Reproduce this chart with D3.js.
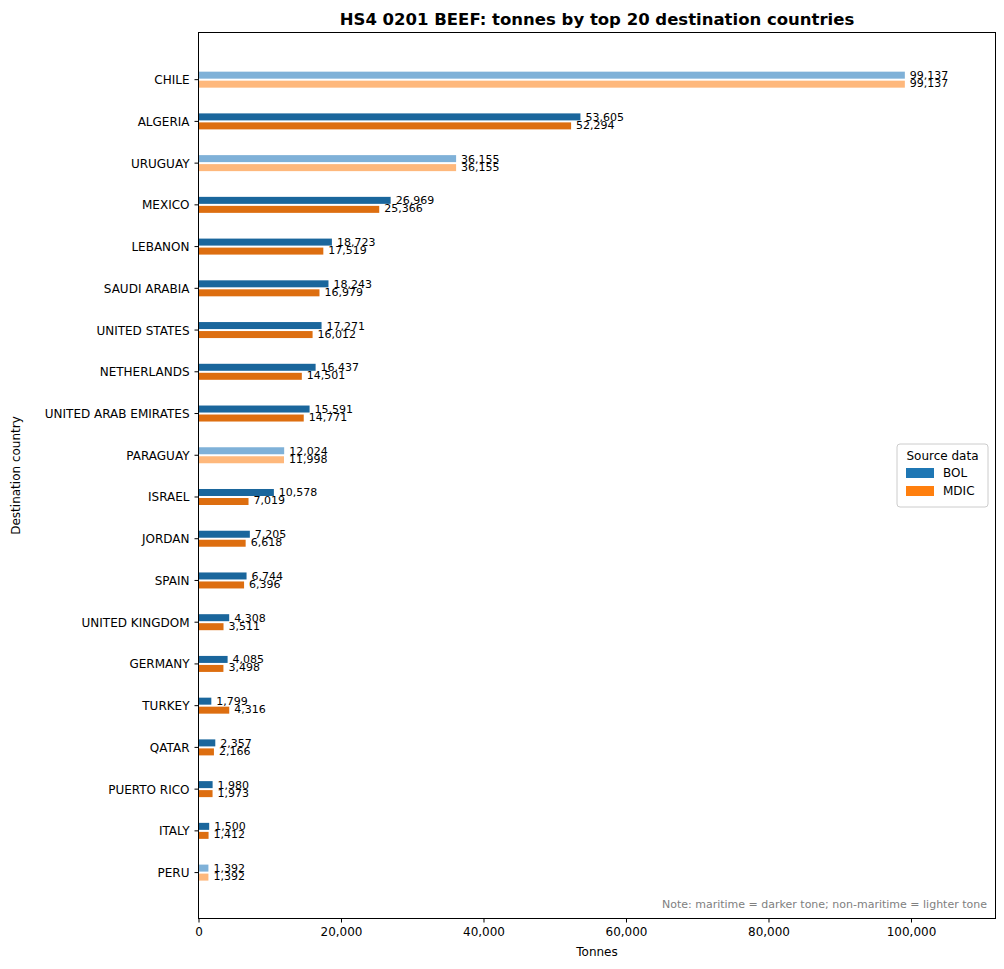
<!DOCTYPE html>
<html><head><meta charset="utf-8">
<script src="https://cdn.jsdelivr.net/npm/d3@7"></script>
<style>body{margin:0;background:#fff;font-family:"DejaVu Sans",sans-serif;}</style>
</head><body>
<script>
var countries=["CHILE","ALGERIA","URUGUAY","MEXICO","LEBANON","SAUDI ARABIA","UNITED STATES","NETHERLANDS","UNITED ARAB EMIRATES","PARAGUAY","ISRAEL","JORDAN","SPAIN","UNITED KINGDOM","GERMANY","TURKEY","QATAR","PUERTO RICO","ITALY","PERU"];
var bol=[99137,53605,36155,26969,18723,18243,17271,16437,15591,12024,10578,7205,6744,4308,4085,1799,2357,1980,1500,1392];
var mdic=[99137,52294,36155,25366,17519,16979,16012,14501,14771,11998,7019,6618,6396,3511,3498,4316,2166,1973,1412,1392];
var maritime=[false,true,false,true,true,true,true,true,true,false,true,true,true,true,true,true,true,true,true,false];
var xTicks=[0,20000,40000,60000,80000,100000];

var W=1004,H=969,pL=198.5,pR=995.5,pT=32.5,pB=918.5;
var svg=d3.select("body").append("svg").attr("width",W).attr("height",H);
var x=d3.scaleLinear().domain([0,111860]).range([pL,pR]);
var y=d3.scaleLinear().domain([-1.13,20.1]).range([pT,pB]);
var fmt=d3.format(",");
var col={bol:["#1a669c","#7fb1d8"],mdic:["#dd6e10","#feb87c"]};
var bh=7;

svg.append("text").attr("x",(pL+pR)/2).attr("y",25).attr("text-anchor","middle")
  .attr("font-size",16.5).attr("font-weight","bold").text("HS4 0201 BEEF: tonnes by top 20 destination countries");

var g=svg.selectAll(".row").data(countries).enter().append("g");
g.append("rect").attr("x",x(0)).attr("y",function(d,i){return y(i)-bh-1;})
  .attr("width",function(d,i){return x(bol[i])-x(0);}).attr("height",bh)
  .attr("fill",function(d,i){return maritime[i]?col.bol[0]:col.bol[1];});
g.append("rect").attr("x",x(0)).attr("y",function(d,i){return y(i)+1;})
  .attr("width",function(d,i){return x(mdic[i])-x(0);}).attr("height",bh)
  .attr("fill",function(d,i){return maritime[i]?col.mdic[0]:col.mdic[1];});
g.append("text").attr("x",function(d,i){return x(bol[i])+5;}).attr("y",function(d,i){return y(i)-0.5;})
  .attr("font-size",11).text(function(d,i){return fmt(bol[i]);});
g.append("text").attr("x",function(d,i){return x(mdic[i])+5;}).attr("y",function(d,i){return y(i)+7.5;})
  .attr("font-size",11).text(function(d,i){return fmt(mdic[i]);});

// y ticks
g.append("line").attr("x1",pL-4).attr("x2",pL).attr("y1",function(d,i){return y(i);}).attr("y2",function(d,i){return y(i);}).attr("stroke","#000");
g.append("text").attr("x",pL-9).attr("y",function(d,i){return y(i)+4.5;}).attr("text-anchor","end")
  .attr("font-size",12).text(function(d){return d;});

var xa=svg.append("g").attr("transform","translate(0,"+pB+")")
  .call(d3.axisBottom(x).tickValues(xTicks).tickFormat(fmt).tickSize(4).tickPadding(5));
xa.select(".domain").remove();
xa.selectAll("text").attr("font-size",12).attr("font-family","DejaVu Sans").attr("fill","#000");

svg.append("rect").attr("x",pL).attr("y",pT).attr("width",pR-pL).attr("height",pB-pT)
  .attr("fill","none").attr("stroke","#000").attr("stroke-width",1);

svg.append("text").attr("x",(pL+pR)/2).attr("y",956).attr("text-anchor","middle").attr("font-size",12).text("Tonnes");
svg.append("text").attr("transform","translate(20,"+((pT+pB)/2)+") rotate(-90)").attr("text-anchor","middle").attr("font-size",12).text("Destination country");

svg.append("text").attr("x",987).attr("y",908).attr("text-anchor","end").attr("font-size",11).attr("fill","#808080")
  .text("Note: maritime = darker tone; non-maritime = lighter tone");

// legend
var lg=svg.append("g").attr("transform","translate(897,444)");
lg.append("rect").attr("width",91).attr("height",63).attr("rx",3).attr("fill","#fff").attr("stroke","#ccc");
lg.append("text").attr("x",45.5).attr("y",16).attr("text-anchor","middle").attr("font-size",12).text("Source data");
var items=[["BOL","#1f77b4"],["MDIC","#ff7f0e"]];
items.forEach(function(it,i){
  lg.append("rect").attr("x",9).attr("y",24+i*18).attr("width",28).attr("height",10).attr("fill",it[1]);
  lg.append("text").attr("x",46).attr("y",33+i*18).attr("font-size",12).text(it[0]);
});
</script>
</body></html>
